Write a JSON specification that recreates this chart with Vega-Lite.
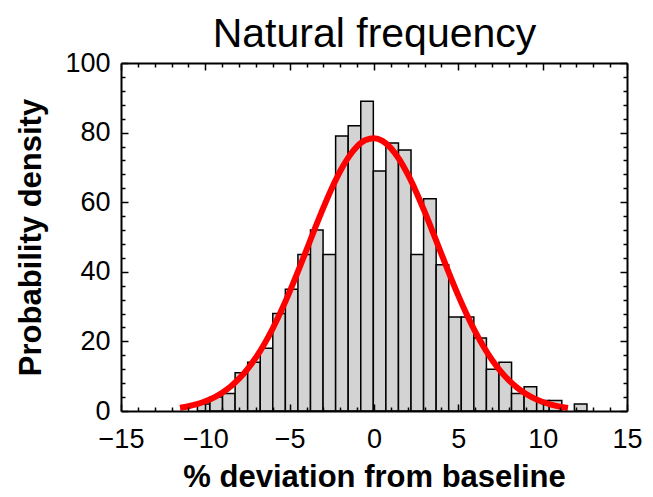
{
  "$schema": "https://vega.github.io/schema/vega-lite/v6.json",
  "autosize": {"type": "none"},
  "width": 506,
  "height": 348,
  "padding": {"left": 121, "top": 63, "right": 26, "bottom": 86},
  "background": "white",
  "config": {"view": {"stroke": null}},
  "datasets": {
    "bins": [
      {"start": -10.47, "end": -9.725, "density": 2},
      {"start": -9.725, "end": -8.98, "density": 4},
      {"start": -8.98, "end": -8.235, "density": 5},
      {"start": -8.235, "end": -7.49, "density": 11},
      {"start": -7.49, "end": -6.745, "density": 14},
      {"start": -6.745, "end": -6.0, "density": 18},
      {"start": -6.0, "end": -5.255, "density": 28},
      {"start": -5.255, "end": -4.51, "density": 35},
      {"start": -4.51, "end": -3.765, "density": 45},
      {"start": -3.765, "end": -3.02, "density": 52},
      {"start": -3.02, "end": -2.275, "density": 45},
      {"start": -2.275, "end": -1.53, "density": 79},
      {"start": -1.53, "end": -0.785, "density": 82},
      {"start": -0.785, "end": -0.04, "density": 89},
      {"start": -0.04, "end": 0.705, "density": 69},
      {"start": 0.705, "end": 1.45, "density": 77},
      {"start": 1.45, "end": 2.195, "density": 75},
      {"start": 2.195, "end": 2.94, "density": 45},
      {"start": 2.94, "end": 3.685, "density": 61},
      {"start": 3.685, "end": 4.43, "density": 42},
      {"start": 4.43, "end": 5.175, "density": 27},
      {"start": 5.175, "end": 5.92, "density": 27},
      {"start": 5.92, "end": 6.665, "density": 21},
      {"start": 6.665, "end": 7.41, "density": 12},
      {"start": 7.41, "end": 8.155, "density": 14},
      {"start": 8.155, "end": 8.9, "density": 5},
      {"start": 8.9, "end": 9.645, "density": 7},
      {"start": 9.645, "end": 10.39, "density": 3},
      {"start": 10.39, "end": 11.135, "density": 3},
      {"start": 11.88, "end": 12.625, "density": 2}
    ],
    "curve": [
      {"x": -11.5, "y": 0.94}, {"x": -11, "y": 1.37}, {"x": -10.5, "y": 1.97}, {"x": -10, "y": 2.78},
      {"x": -9.5, "y": 3.86}, {"x": -9, "y": 5.26}, {"x": -8.5, "y": 7.05}, {"x": -8, "y": 9.3},
      {"x": -7.5, "y": 12.06}, {"x": -7, "y": 15.37}, {"x": -6.5, "y": 19.27}, {"x": -6, "y": 23.75},
      {"x": -5.5, "y": 28.79}, {"x": -5, "y": 34.31}, {"x": -4.5, "y": 40.2}, {"x": -4, "y": 46.32},
      {"x": -3.5, "y": 52.47}, {"x": -3, "y": 58.46}, {"x": -2.5, "y": 64.03}, {"x": -2, "y": 68.96},
      {"x": -1.5, "y": 73.03}, {"x": -1, "y": 76.05}, {"x": -0.5, "y": 77.87}, {"x": 0, "y": 78.39},
      {"x": 0.5, "y": 77.6}, {"x": 1, "y": 75.54}, {"x": 1.5, "y": 72.3}, {"x": 2, "y": 68.04},
      {"x": 2.5, "y": 62.96}, {"x": 3, "y": 57.28}, {"x": 3.5, "y": 51.25}, {"x": 4, "y": 45.08},
      {"x": 4.5, "y": 39.0}, {"x": 5, "y": 33.17}, {"x": 5.5, "y": 27.74}, {"x": 6, "y": 22.81},
      {"x": 6.5, "y": 18.44}, {"x": 7, "y": 14.66}, {"x": 7.5, "y": 11.46}, {"x": 8, "y": 8.81},
      {"x": 8.5, "y": 6.66}, {"x": 9, "y": 4.95}, {"x": 9.5, "y": 3.62}, {"x": 10, "y": 2.6},
      {"x": 10.5, "y": 1.84}, {"x": 11, "y": 1.27}, {"x": 11.5, "y": 0.87}
    ]
  },
  "resolve": {"axis": {"x": "independent", "y": "independent"}},
  "layer": [
    {
      "data": {"name": "bins"},
      "mark": {"type": "rect", "fill": "#d3d3d3", "stroke": "black", "strokeWidth": 1.5},
      "encoding": {
        "x": {"field": "start", "type": "quantitative",
          "scale": {"domain": [-15, 15], "nice": false, "zero": false},
          "axis": {"orient": "bottom", "zindex": 1,
            "values": [-15,-14,-13,-12,-11,-10,-9,-8,-7,-6,-5,-4,-3,-2,-1,0,1,2,3,4,5,6,7,8,9,10,11,12,13,14,15],
            "labelExpr": "datum.value % 5 === 0 ? datum.label : ''",
            "tickSize": {"condition": {"test": "datum.value % 5 === 0", "value": -7}, "value": -4},
            "tickColor": "black", "tickWidth": 1.5, "domainColor": "black", "domainWidth": 2,
            "labelFont": "Liberation Sans", "labelFontSize": 27, "labelColor": "black", "labelPadding": 22,
            "labelFlush": false, "labelOverlap": false, "grid": false,
            "title": "% deviation from baseline", "titleFont": "Liberation Sans", "titleFontSize": 31,
            "titleFontWeight": "bold", "titleColor": "black", "titlePadding": 7}
        },
        "x2": {"field": "end"},
        "y": {"field": "density", "type": "quantitative",
          "scale": {"domain": [0, 100], "nice": false},
          "axis": {"orient": "left", "zindex": 1,
            "values": [0,4,8,12,16,20,24,28,32,36,40,44,48,52,56,60,64,68,72,76,80,84,88,92,96,100],
            "labelExpr": "datum.value % 20 === 0 ? datum.label : ''",
            "tickSize": {"condition": {"test": "datum.value % 20 === 0", "value": -7}, "value": -4},
            "tickColor": "black", "tickWidth": 1.5, "domainColor": "black", "domainWidth": 2,
            "labelFont": "Liberation Sans", "labelFontSize": 27, "labelColor": "black", "labelPadding": 18,
            "labelFlush": false, "labelOverlap": false, "grid": false,
            "title": "Probability density", "titleFont": "Liberation Sans", "titleFontSize": 31,
            "titleFontWeight": "bold", "titleColor": "black", "titlePadding": 17}
        },
        "y2": {"datum": 0}
      }
    },
    {
      "data": {"name": "curve"},
      "mark": {"type": "line", "color": "#ff0000", "strokeWidth": 6, "interpolate": "monotone"},
      "encoding": {
        "x": {"field": "x", "type": "quantitative",
          "scale": {"domain": [-15, 15], "nice": false, "zero": false},
          "axis": {"orient": "top", "zindex": 1,
            "values": [-15,-14,-13,-12,-11,-10,-9,-8,-7,-6,-5,-4,-3,-2,-1,0,1,2,3,4,5,6,7,8,9,10,11,12,13,14,15],
            "labels": false, "grid": false,
            "title": "Natural frequency", "titleFont": "Liberation Sans", "titleFontSize": 41,
            "titleFontWeight": "normal", "titleColor": "black", "titlePadding": 7,
            "tickSize": {"condition": {"test": "datum.value % 5 === 0", "value": -7}, "value": -4},
            "tickColor": "black", "tickWidth": 1.5, "domainColor": "black", "domainWidth": 2}
        },
        "y": {"field": "y", "type": "quantitative",
          "scale": {"domain": [0, 100], "nice": false},
          "axis": {"orient": "right", "zindex": 1,
            "values": [0,4,8,12,16,20,24,28,32,36,40,44,48,52,56,60,64,68,72,76,80,84,88,92,96,100],
            "labels": false, "title": null, "grid": false,
            "tickSize": {"condition": {"test": "datum.value % 20 === 0", "value": -7}, "value": -4},
            "tickColor": "black", "tickWidth": 1.5, "domainColor": "black", "domainWidth": 2}
        }
      }
    }
  ]
}
